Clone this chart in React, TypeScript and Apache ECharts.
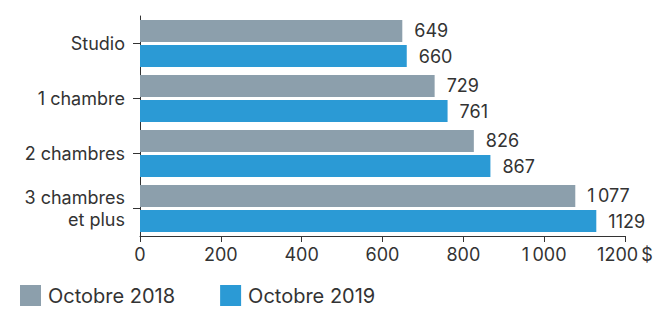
import React, { useEffect, useRef } from "react";
import * as echarts from "echarts";

const categories = ["Studio", "1 chambre", "2 chambres", "3 chambres\net plus"];
const series2018 = [649, 729, 826, 1077];
const series2019 = [660, 761, 867, 1129];
const seriesNames = ["Octobre 2018", "Octobre 2019"];
const xTicks = [0, 200, 400, 600, 800, 1000, 1200];

const fmt = (v: number) => {
  if (v === 1200) return "1200\u2009$";
  if (v === 1000) return "1\u2009000";
  if (v === 1077) return "1\u2009077";
  return String(v);
};

const FONT = "Inter";
const TXT = "#333333";

export default function App() {
  const ref = useRef<HTMLDivElement>(null);
  useEffect(() => {
    if (!ref.current) return;
    const chart = echarts.init(ref.current, undefined, { renderer: "svg" });
    const labelCfg = {
      show: true,
      position: "right" as const,
      distance: 12,
      color: TXT,
      fontSize: 18,
      fontFamily: FONT,
      formatter: (p: any) => fmt(p.value),
    };
    chart.setOption({
      animation: false,
      textStyle: { fontFamily: FONT },
      grid: { left: 140, right: 47, top: 16, bottom: 73, containLabel: false },
      legend: {
        left: 20,
        top: 285,
        padding: 0,
        itemWidth: 21,
        itemHeight: 21,
        itemGap: 45,
        icon: "rect",
        textStyle: { fontSize: 20, color: TXT, fontFamily: FONT, padding: [0, 0, 0, 2], lineHeight: 21 },
        data: seriesNames,
      },
      xAxis: {
        type: "value",
        min: 0,
        max: 1200,
        interval: 200,
        splitLine: { show: false },
        axisLine: { show: true, lineStyle: { color: "#333", width: 1 } },
        axisTick: { show: true, length: 6, lineStyle: { color: "#333" } },
        axisLabel: {
          color: TXT,
          fontSize: 18,
          fontFamily: FONT,
          margin: 9,
          formatter: (v: number) => (xTicks.includes(v) ? fmt(v) : ""),
        },
      },
      yAxis: {
        type: "category",
        data: categories,
        inverse: true,
        axisLine: { show: true, lineStyle: { color: "#333", width: 1 } },
        axisTick: { show: true, alignWithLabel: true, length: 7, lineStyle: { color: "#333" } },
        axisLabel: {
          color: TXT,
          fontSize: 18,
          fontFamily: FONT,
          margin: 15,
          lineHeight: 22,
        },
      },
      series: [
        {
          name: seriesNames[0],
          type: "bar",
          data: series2018,
          barWidth: 22,
          barGap: "14%",
          itemStyle: { color: "#8c9fac" },
          label: labelCfg,
        },
        {
          name: seriesNames[1],
          type: "bar",
          data: series2019,
          barWidth: 22,
          barGap: "14%",
          itemStyle: { color: "#2b9ad5" },
          label: labelCfg,
        },
      ],
    });
    return () => chart.dispose();
  }, []);
  return (
    <div
      ref={ref}
      style={{ position: "absolute", left: 0, top: 0, width: 672, height: 309 }}
    />
  );
}
